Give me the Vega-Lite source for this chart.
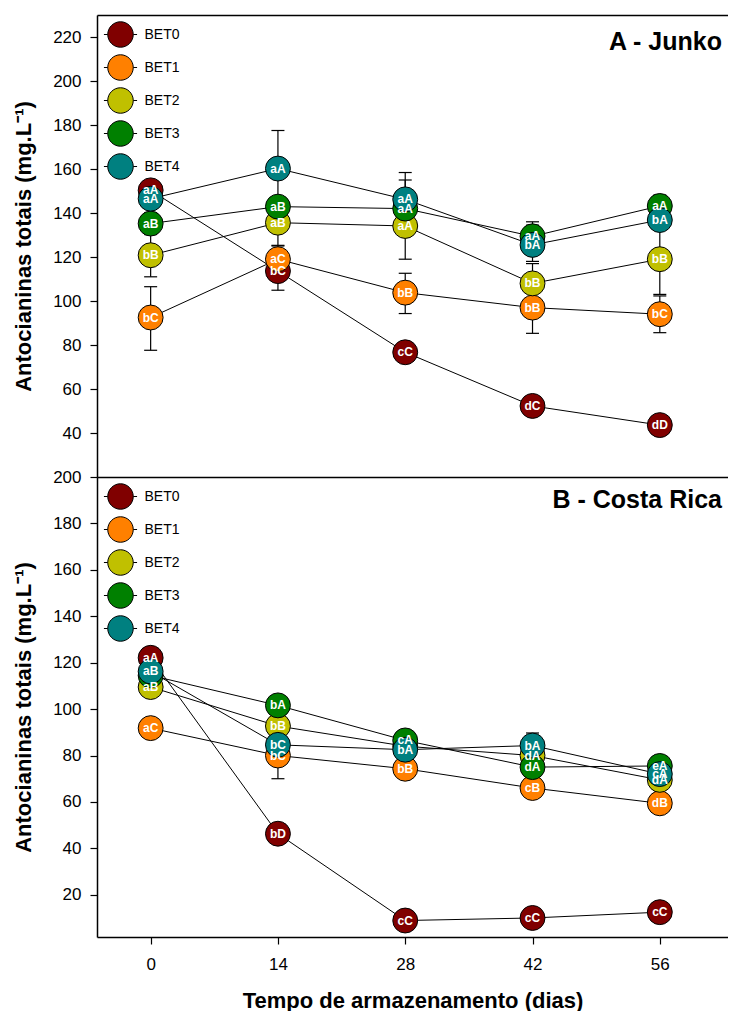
{
  "$schema": "https://vega.github.io/schema/vega-lite/v6.json",
  "usermeta": {"embedOptions": {"actions": false}},
  "padding": {"left": 12, "top": 15, "right": 0, "bottom": 0},
  "spacing": 0,
  "bounds": "flush",
  "config": {
    "font": "Liberation Sans",
    "view": {"stroke": null},
    "axis": {
      "grid": false,
      "domainColor": "#000",
      "domainWidth": 1.5,
      "tickColor": "#000",
      "tickWidth": 1.2,
      "tickSize": 7,
      "labelColor": "#000",
      "labelFont": "Liberation Sans",
      "labelFontSize": 17,
      "titleFont": "Liberation Sans",
      "titleFontSize": 22,
      "titleFontWeight": "bold",
      "titleColor": "#000"
    },
    "legend": {
      "orient": "none",
      "title": null,
      "padding": 0,
      "labelFont": "Liberation Sans",
      "labelFontSize": 14,
      "labelColor": "#000",
      "labelOffset": 10.5,
      "rowPadding": 2,
      "symbolType": "M 1 0 A 1 1 0 1 1 -1 0 A 1 1 0 1 1 1 0 Z M -1.3 0 L -1 0 M 1 0 L 1.3 0",
      "symbolSize": 650,
      "symbolStrokeColor": "#000",
      "symbolStrokeWidth": 1,
      "symbolOpacity": 1
    },
    "title": {
      "font": "Liberation Sans",
      "fontSize": 25,
      "fontWeight": "bold",
      "color": "#000",
      "anchor": "end",
      "frame": "group",
      "baseline": "alphabetic"
    }
  },
  "datasets": {
    "junko": [
      {"dia": 0, "trat": "BET0", "v": 150.3, "rot": "aA", "lo": 147.6, "hi": 153},
      {"dia": 14, "trat": "BET0", "v": 113.6, "rot": "bC", "lo": 104.9, "hi": 122.3},
      {"dia": 28, "trat": "BET0", "v": 76.7, "rot": "cC", "lo": null, "hi": null},
      {"dia": 42, "trat": "BET0", "v": 52.3, "rot": "dC", "lo": null, "hi": null},
      {"dia": 56, "trat": "BET0", "v": 43.6, "rot": "dD", "lo": null, "hi": null},
      {"dia": 0, "trat": "BET1", "v": 92.5, "rot": "bC", "lo": 77.6, "hi": 106.5},
      {"dia": 14, "trat": "BET1", "v": 119, "rot": "aC", "lo": 113, "hi": 125},
      {"dia": 28, "trat": "BET1", "v": 103.8, "rot": "bB", "lo": 94.3, "hi": 112.6},
      {"dia": 42, "trat": "BET1", "v": 97, "rot": "bB", "lo": 85.3, "hi": 108.7},
      {"dia": 56, "trat": "BET1", "v": 94, "rot": "bC", "lo": 85.6, "hi": 102.3},
      {"dia": 0, "trat": "BET2", "v": 120.8, "rot": "bB", "lo": 111, "hi": 130.6},
      {"dia": 14, "trat": "BET2", "v": 135.6, "rot": "aB", "lo": 125.3, "hi": 145.9},
      {"dia": 28, "trat": "BET2", "v": 134.1, "rot": "aA", "lo": 119, "hi": 149.2},
      {"dia": 42, "trat": "BET2", "v": 108, "rot": "bB", "lo": 99, "hi": 117},
      {"dia": 56, "trat": "BET2", "v": 119, "rot": "bB", "lo": 103, "hi": 135},
      {"dia": 0, "trat": "BET3", "v": 135.2, "rot": "aB", "lo": 130.2, "hi": 140.2},
      {"dia": 14, "trat": "BET3", "v": 142.9, "rot": "aB", "lo": null, "hi": null},
      {"dia": 28, "trat": "BET3", "v": 142, "rot": "aA", "lo": 131.8, "hi": 155},
      {"dia": 42, "trat": "BET3", "v": 129.4, "rot": "aA", "lo": 122, "hi": 136},
      {"dia": 56, "trat": "BET3", "v": 143.2, "rot": "aA", "lo": 138.2, "hi": 148.2},
      {"dia": 0, "trat": "BET4", "v": 146.5, "rot": "aA", "lo": null, "hi": null},
      {"dia": 14, "trat": "BET4", "v": 160.2, "rot": "aA", "lo": 142.5, "hi": 177.5},
      {"dia": 28, "trat": "BET4", "v": 146.2, "rot": "aA", "lo": 134, "hi": 158.4},
      {"dia": 42, "trat": "BET4", "v": 125.5, "rot": "bA", "lo": 118, "hi": 134.5},
      {"dia": 56, "trat": "BET4", "v": 136.8, "rot": "bA", "lo": null, "hi": null}
    ],
    "costa": [
      {"dia": 0, "trat": "BET0", "v": 122.1, "rot": "aA", "lo": null, "hi": null},
      {"dia": 14, "trat": "BET0", "v": 46.3, "rot": "bD", "lo": null, "hi": null},
      {"dia": 28, "trat": "BET0", "v": 8.9, "rot": "cC", "lo": null, "hi": null},
      {"dia": 42, "trat": "BET0", "v": 10, "rot": "cC", "lo": null, "hi": null},
      {"dia": 56, "trat": "BET0", "v": 12.5, "rot": "cC", "lo": null, "hi": null},
      {"dia": 0, "trat": "BET1", "v": 91.8, "rot": "aC", "lo": null, "hi": null},
      {"dia": 14, "trat": "BET1", "v": 80, "rot": "bC", "lo": null, "hi": null},
      {"dia": 28, "trat": "BET1", "v": 74.3, "rot": "bB", "lo": 70.5, "hi": 78},
      {"dia": 42, "trat": "BET1", "v": 66, "rot": "cB", "lo": 62, "hi": 70},
      {"dia": 56, "trat": "BET1", "v": 59.4, "rot": "dB", "lo": null, "hi": null},
      {"dia": 0, "trat": "BET2", "v": 109.5, "rot": "aB", "lo": null, "hi": null},
      {"dia": 14, "trat": "BET2", "v": 92.7, "rot": "bB", "lo": null, "hi": null},
      {"dia": 28, "trat": "BET2", "v": 84, "rot": "", "lo": null, "hi": null},
      {"dia": 42, "trat": "BET2", "v": 80, "rot": "dA", "lo": null, "hi": null},
      {"dia": 56, "trat": "BET2", "v": 69.5, "rot": "dA", "lo": 65, "hi": 74},
      {"dia": 0, "trat": "BET3", "v": 114.5, "rot": "", "lo": null, "hi": null},
      {"dia": 14, "trat": "BET3", "v": 101.6, "rot": "bA", "lo": null, "hi": null},
      {"dia": 28, "trat": "BET3", "v": 86.5, "rot": "cA", "lo": 82.2, "hi": 90.8},
      {"dia": 42, "trat": "BET3", "v": 75, "rot": "dA", "lo": 72, "hi": 78},
      {"dia": 56, "trat": "BET3", "v": 75.5, "rot": "eA", "lo": null, "hi": null},
      {"dia": 0, "trat": "BET4", "v": 116.2, "rot": "aB", "lo": null, "hi": null},
      {"dia": 14, "trat": "BET4", "v": 84.6, "rot": "bC", "lo": 70, "hi": 99.4},
      {"dia": 28, "trat": "BET4", "v": 82.5, "rot": "bA", "lo": null, "hi": null},
      {"dia": 42, "trat": "BET4", "v": 84.3, "rot": "bA", "lo": 79, "hi": 89.7},
      {"dia": 56, "trat": "BET4", "v": 72, "rot": "cA", "lo": null, "hi": null}
    ]
  },
  "vconcat": [
    {
      "width": 631,
      "height": 462,
      "data": {"name": "junko"},
      "title": {"text": "A - Junko", "offset": -40, "dx": -6},
      "layer": [
        {
          "mark": {"type": "line", "color": "#000", "strokeWidth": 1},
          "encoding": {
            "x": {"field": "dia", "type": "quantitative", "scale": {"domain": [-5.9, 63.5], "nice": false, "zero": false},
                  "axis": {"orient": "top", "labels": false, "ticks": false, "title": null}},
            "y": {"field": "v", "type": "quantitative", "title": "Antocianinas totais (mg.L⁻¹)",
                  "scale": {"domain": [20, 230], "nice": false, "zero": false},
                  "axis": {"values": [40, 60, 80, 100, 120, 140, 160, 180, 200, 220], "labelPadding": 9, "titlePadding": 17}},
            "detail": {"field": "trat"}
          }
        },
        {
          "transform": [{"filter": "isValid(datum.lo)"}],
          "mark": {"type": "rule", "color": "#000", "strokeWidth": 1.2},
          "encoding": {
            "x": {"field": "dia", "type": "quantitative", "axis": {"orient": "bottom", "labels": false, "ticks": false, "title": null}},
            "y": {"field": "lo", "type": "quantitative", "title": "Antocianinas totais (mg.L⁻¹)"},
            "y2": {"field": "hi"}
          }
        },
        {
          "transform": [{"filter": "isValid(datum.lo)"}],
          "mark": {"type": "tick", "orient": "horizontal", "size": 13, "thickness": 1.2, "color": "#000", "opacity": 1},
          "encoding": {
            "x": {"field": "dia", "type": "quantitative", "axis": null},
            "y": {"field": "lo", "type": "quantitative", "title": "Antocianinas totais (mg.L⁻¹)"}
          }
        },
        {
          "transform": [{"filter": "isValid(datum.hi)"}],
          "mark": {"type": "tick", "orient": "horizontal", "size": 13, "thickness": 1.2, "color": "#000", "opacity": 1},
          "encoding": {
            "x": {"field": "dia", "type": "quantitative", "axis": null},
            "y": {"field": "hi", "type": "quantitative", "title": "Antocianinas totais (mg.L⁻¹)"}
          }
        },
        {
          "mark": {"type": "circle", "size": 620, "opacity": 1, "stroke": "#000", "strokeWidth": 1},
          "encoding": {
            "x": {"field": "dia", "type": "quantitative", "axis": null},
            "y": {"field": "v", "type": "quantitative", "title": "Antocianinas totais (mg.L⁻¹)"},
            "color": {"field": "trat", "type": "nominal",
                      "scale": {"domain": ["BET0", "BET1", "BET2", "BET3", "BET4"], "range": ["#800000", "#ff8000", "#c0c000", "#008000", "#008080"]},
                      "legend": {"legendX": 10, "legendY": 6}}
          }
        },
        {
          "mark": {"type": "text", "color": "#fff", "fontSize": 12, "fontWeight": "bold", "align": "center", "baseline": "middle"},
          "encoding": {
            "x": {"field": "dia", "type": "quantitative", "axis": null},
            "y": {"field": "v", "type": "quantitative", "title": "Antocianinas totais (mg.L⁻¹)"},
            "text": {"field": "rot"}
          }
        }
      ],
      "resolve": {"axis": {"x": "independent"}}
    },
    {
      "width": 631,
      "height": 460,
      "data": {"name": "costa"},
      "title": {"text": "B - Costa Rica", "offset": -45, "dx": -6},
      "encoding": {
        "x": {"field": "dia", "type": "quantitative", "title": "Tempo de armazenamento (dias)",
              "scale": {"domain": [-5.9, 63.5], "nice": false, "zero": false},
              "axis": {"values": [0, 14, 28, 42, 56], "labelPadding": 12, "titlePadding": 18}}
      },
      "layer": [
        {
          "mark": {"type": "line", "color": "#000", "strokeWidth": 1},
          "encoding": {
            "y": {"field": "v", "type": "quantitative", "title": "Antocianinas totais (mg.L⁻¹)",
                  "scale": {"domain": [1.8, 200], "nice": false, "zero": false},
                  "axis": {"values": [20, 40, 60, 80, 100, 120, 140, 160, 180, 200], "labelPadding": 9, "titlePadding": 17}},
            "detail": {"field": "trat"}
          }
        },
        {
          "transform": [{"filter": "isValid(datum.lo)"}],
          "mark": {"type": "rule", "color": "#000", "strokeWidth": 1.2},
          "encoding": {
            "y": {"field": "lo", "type": "quantitative", "title": "Antocianinas totais (mg.L⁻¹)"},
            "y2": {"field": "hi"}
          }
        },
        {
          "transform": [{"filter": "isValid(datum.lo)"}],
          "mark": {"type": "tick", "orient": "horizontal", "size": 13, "thickness": 1.2, "color": "#000", "opacity": 1},
          "encoding": {
            "y": {"field": "lo", "type": "quantitative", "title": "Antocianinas totais (mg.L⁻¹)"}
          }
        },
        {
          "transform": [{"filter": "isValid(datum.hi)"}],
          "mark": {"type": "tick", "orient": "horizontal", "size": 13, "thickness": 1.2, "color": "#000", "opacity": 1},
          "encoding": {
            "y": {"field": "hi", "type": "quantitative", "title": "Antocianinas totais (mg.L⁻¹)"}
          }
        },
        {
          "mark": {"type": "circle", "size": 620, "opacity": 1, "stroke": "#000", "strokeWidth": 1},
          "encoding": {
            "y": {"field": "v", "type": "quantitative", "title": "Antocianinas totais (mg.L⁻¹)"},
            "color": {"field": "trat", "type": "nominal",
                      "scale": {"domain": ["BET0", "BET1", "BET2", "BET3", "BET4"], "range": ["#800000", "#ff8000", "#c0c000", "#008000", "#008080"]},
                      "legend": {"legendX": 10, "legendY": 6}}
          }
        },
        {
          "mark": {"type": "text", "color": "#fff", "fontSize": 12, "fontWeight": "bold", "align": "center", "baseline": "middle"},
          "encoding": {
            "y": {"field": "v", "type": "quantitative", "title": "Antocianinas totais (mg.L⁻¹)"},
            "text": {"field": "rot"}
          }
        }
      ]
    }
  ],
  "resolve": {
    "scale": {"y": "independent", "color": "independent"},
    "legend": {"color": "independent"}
  }
}
